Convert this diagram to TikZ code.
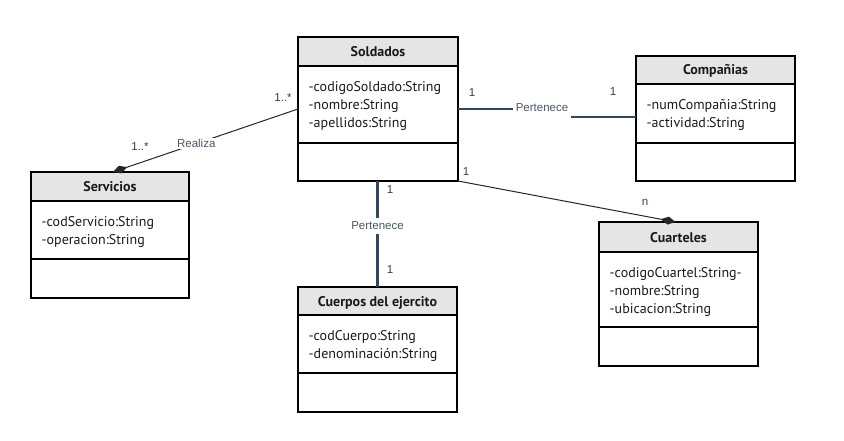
\documentclass[tikz,border=0pt]{standalone}
\usepackage{fontspec}
\setmainfont{PT Sans}
\newfontfamily\lblfont{Liberation Sans}
\usetikzlibrary{arrows.meta,calc}
\definecolor{slate}{HTML}{2E4A5A}
\definecolor{multc}{HTML}{4A3A36}
\definecolor{lblc}{HTML}{4A5866}
\definecolor{hdr}{HTML}{E5E5E5}
\definecolor{txtc}{HTML}{1A1A1A}
\tikzset{
  classbox/.style={draw=black, line width=1.1pt, inner sep=0pt, outer sep=0pt},
  sepline/.style={draw=black, line width=1.1pt},
  titletext/.style={inner sep=0pt, font=\fontsize{14}{16}\selectfont\bfseries, text=txtc},
  attrtext/.style={inner sep=0pt, font=\fontsize{14}{16}\selectfont, text=txtc},
  thickline/.style={draw=slate, line width=2.5pt},
  thinline/.style={draw=black!85, line width=1pt},
  lbl/.style={fill=white, inner sep=1.5pt, font=\lblfont\fontsize{11.5}{13}\selectfont, text=lblc},
  mult/.style={inner sep=0pt, font=\lblfont\fontsize{11.5}{13}\selectfont, text=multc},
  comptip/.style={-{Diamond[length=15pt,width=8pt]}}
}
\newcommand\umlclass[9]{%
  \fill[hdr] (#2,#3) rectangle (#4,#6);
  \node[classbox, minimum width={(#4-#2)*1pt}, minimum height={(#5-#3)*1pt}] (#1) at ({(#2+#4)/2},{(#3+#5)/2}) {};
  \draw[sepline] (#2,#6) -- (#4,#6);
  \draw[sepline] (#2,#7) -- (#4,#7);
  \node[titletext, anchor=base] (#1-t) at ({(#2+#4)/2},{(#3+#6)/2+5}) {#8};
  \foreach \a [count=\i] in {#9} {
    \node[attrtext, anchor=base west] (#1-a\i) at ({#2+10.5},{#6+25.5+18*(\i-1)}) {\a};
  }
}
\begin{document}
\begin{tikzpicture}[x=1pt,y=-1pt]
\useasboundingbox[fill=white] (0,0) rectangle (844,441);
\umlclass{soldados}{298}{37}{458}{181}{66}{143}{Soldados}{-codigoSoldado:String,-nombre:String,-apellidos:String}
\umlclass{companias}{636}{56}{795}{181}{84}{143}{Compañias}{-numCompañia:String,-actividad:String}
\umlclass{servicios}{31}{172}{189}{298}{201}{259}{Servicios}{-codServicio:String,-operacion:String}
\umlclass{cuarteles}{599}{222}{758}{366}{252}{327}{Cuarteles}{-codigoCuartel:String-,-nombre:String,-ubicacion:String}
\umlclass{cuerpos}{298}{287}{457}{412}{315}{373}{Cuerpos del ejercito}{-codCuerpo:String,-denominación:String}

% Realiza
\draw[thinline, comptip] (soldados.west) -- node[lbl, pos=0.55] (realiza) {Realiza} ([xshift=3]servicios.north);
\node[mult] (m1) at (283,98) {1..*};
\node[mult] (m2) at (140,147) {1..*};

% Pertenece soldados - companias
\draw[thickline] (soldados.east) -- (543,109) -- (543,117) -- (companias.west |- 0,117);
\node[lbl, minimum height=24pt, inner xsep=3pt] (pert1) at (542,108) {Pertenece};
\node[mult] (m3) at (472,93) {1};
\node[mult] (m4) at (613,92) {1};

% soldados - cuarteles
\draw[thinline, comptip] (soldados.south east) -- ([xshift=-3]cuarteles.north);
\node[mult] (m5) at (466,172) {1};
\node[mult] (m6) at (645,202) {n};

% soldados - cuerpos
\draw[thickline] (soldados.south -| cuerpos.north) -- node[lbl, pos=0.42, inner ysep=4pt] (pert2) {Pertenece} (cuerpos.north);
\node[mult] (m7) at (390,190) {1};
\node[mult] (m8) at (390,270) {1};
\end{tikzpicture}
\end{document}
